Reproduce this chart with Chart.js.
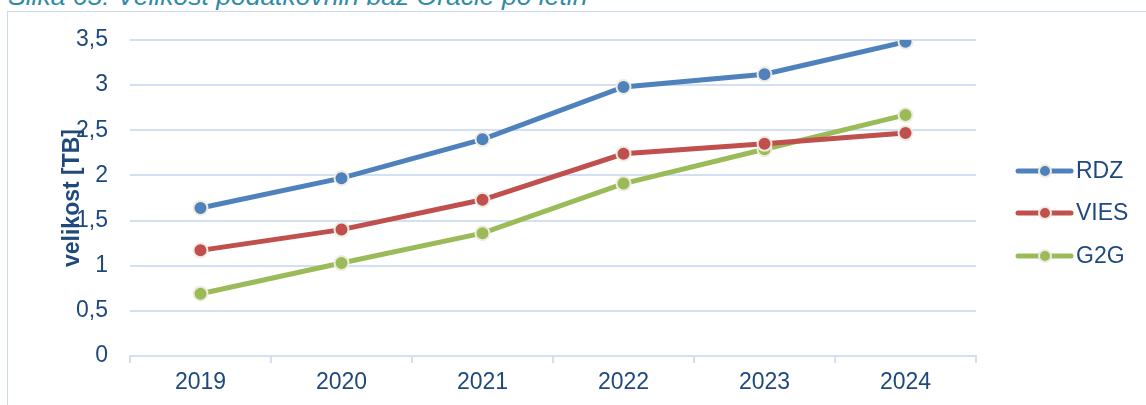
<!DOCTYPE html>
<html>
<head>
<meta charset="utf-8">
<script src="https://cdn.jsdelivr.net/npm/chart.js@4.4.1/dist/chart.umd.min.js"></script>
<style>
  html, body { margin: 0; padding: 0; background: #fff; overflow: hidden; }
  #page { position: relative; width: 1146px; height: 405px; }
  #caption {
    position: absolute; left: 8px; top: -17px;
    font: italic 26.5px "Liberation Sans", Arial, sans-serif;
    line-height: 1;
    color: #2f8ca6; white-space: nowrap;
  }
  #frame {
    position: absolute; left: 7px; top: 11px; width: 1160px; height: 420px;
    border: 1px solid #cddbee; box-sizing: border-box;
  }
  #myChart { position: absolute; left: 0; top: 0; }
</style>
</head>
<body>
<div id="page">
  <div id="caption">Slika 65: Velikost podatkovnih baz Oracle po letih</div>
  <div id="frame"></div>
  <canvas id="myChart" width="1146" height="405"></canvas>
</div>
<script>
'use strict';

let years = ['2019', '2020', '2021', '2022', '2023', '2024'];
let rdz_data = [1.64, 1.97, 2.40, 2.98, 3.12, 3.48];
let vies_data = [1.17, 1.40, 1.73, 2.24, 2.35, 2.47];
let g2g_data = [0.69, 1.03, 1.36, 1.91, 2.29, 2.67];
let y_ticks = [0, 0.5, 1, 1.5, 2, 2.5, 3, 3.5];

let navy = '#1f497d';
let grid_col = '#d3e0f2';
let font_name = '"Liberation Sans", Arial, sans-serif';

function line_set(name, data, color) {
  return {
    label: name,
    data: data,
    borderColor: color,
    backgroundColor: color,
    borderWidth: 5,
    pointRadius: 7,
    pointBorderWidth: 2,
    pointBorderColor: '#eeece1',
    pointBackgroundColor: color,
    tension: 0
  };
}

// legend on the right: short line with a dot, then the name
let side_legend = {
  id: 'side_legend',
  afterDraw(chart) {
    let ctx = chart.ctx;
    let rows = [171, 213, 256];
    ctx.save();
    chart.data.datasets.forEach(function (ds, i) {
      let y = rows[i];
      ctx.strokeStyle = ds.borderColor;
      ctx.lineWidth = 5;
      ctx.lineCap = 'round';
      ctx.beginPath();
      ctx.moveTo(1018, y);
      ctx.lineTo(1071, y);
      ctx.stroke();
      ctx.beginPath();
      ctx.arc(1045, y, 6, 0, Math.PI * 2);
      ctx.fillStyle = ds.pointBackgroundColor;
      ctx.fill();
      ctx.lineWidth = 2;
      ctx.strokeStyle = '#eeece1';
      ctx.stroke();
      ctx.fillStyle = navy;
      ctx.font = '23px ' + font_name;
      ctx.textBaseline = 'middle';
      ctx.fillText(ds.label, 1076, y + 1);
    });
    ctx.restore();
  }
};

let ctx = document.getElementById('myChart').getContext('2d');
let myChart = new Chart(ctx, {
  type: 'line',
  data: {
    labels: years,
    datasets: [
      line_set('RDZ', rdz_data, '#4f81bd'),
      line_set('VIES', vies_data, '#c0504d'),
      line_set('G2G', g2g_data, '#9bbb59')
    ]
  },
  options: {
    responsive: false,
    animation: false,
    layout: { padding: { left: 0, right: 170, top: 40, bottom: 0 } },
    plugins: {
      legend: { display: false },
      tooltip: { enabled: false }
    },
    scales: {
      x: {
        offset: true,
        grid: {
          display: true,
          offset: true,
          drawOnChartArea: false,
          drawTicks: true,
          tickLength: 7,
          color: grid_col,
          lineWidth: 2
        },
        border: { color: grid_col, width: 2 },
        ticks: {
          color: navy,
          font: { size: 23, family: font_name },
          padding: 6
        },
        afterFit(scale) { scale.height = 49; }
      },
      y: {
        min: 0,
        max: 3.5,
        afterBuildTicks(scale) {
          scale.ticks = y_ticks.map(function (v) { return { value: v }; });
        },
        grid: { color: grid_col, lineWidth: 2, drawTicks: false },
        border: { display: false },
        ticks: {
          color: navy,
          font: { size: 23, family: font_name },
          padding: 22,
          callback: function (v) { return String(v).replace('.', ','); }
        },
        title: {
          display: true,
          text: 'velikost [TB]',
          color: navy,
          font: { size: 23, weight: 'bold', family: font_name },
          padding: { top: 59, bottom: 0 }
        },
        afterFit(scale) { scale.width = 130; }
      }
    }
  },
  plugins: [side_legend]
});
</script>
</body>
</html>
